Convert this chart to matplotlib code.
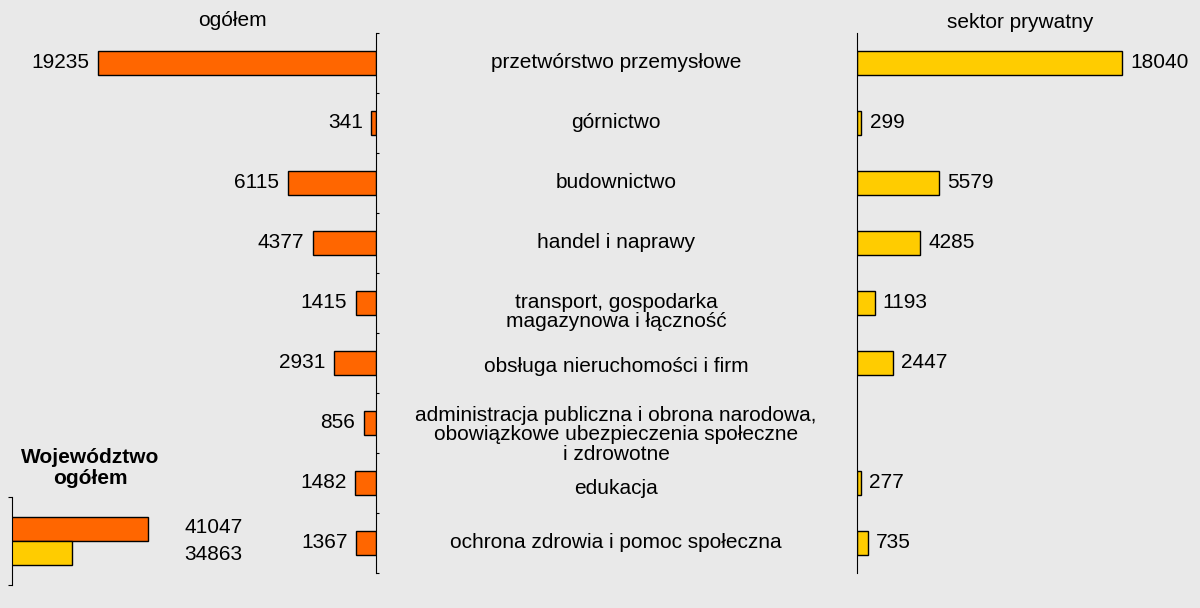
import matplotlib
matplotlib.use("Agg")
import matplotlib.pyplot as plt
import matplotlib.transforms as mtransforms
import numpy as np

plt.rcParams['font.family'] = ['Liberation Sans', 'DejaVu Sans']

# dane
categories = [
	'przetwórstwo przemysłowe',
	'górnictwo',
	'budownictwo',
	'handel i naprawy',
	'transport, gospodarka\nmagazynowa i łączność',
	'obsługa nieruchomości i firm',
	'administracja publiczna i obrona narodowa,\nobowiązkowe ubezpieczenia społeczne\ni zdrowotne',
	'edukacja',
	'ochrona zdrowia i pomoc społeczna',
]
ogolem = [19235, 341, 6115, 4377, 1415, 2931, 856, 1482, 1367]
prywatny = [18040, 299, 5579, 4285, 1193, 2447, None, 277, 735]
woj_labels = ['ogółem', 'sektor prywatny']
woj_values = [41047, 34863]

bg = '#e9e9e9'
orange = '#ff6600'
yellow = '#ffcc00'
fs = 15

fig = plt.figure(figsize=(12, 6.08), dpi=100)
fig.patch.set_facecolor(bg)

bottom = 35 / 608
height = 540 / 608
axL = fig.add_axes([87 / 1200, bottom, 289 / 1200, height])
axR = fig.add_axes([857 / 1200, bottom, 294 / 1200, height])

y = np.arange(len(categories))

# lewa strona - ogółem
axL.barh(y, ogolem, height=0.4, color=orange, edgecolor='black', linewidth=1)
axL.set_xlim(20000, 0)
axL.set_ylim(len(categories) - 0.5, -0.5)
for i, v in enumerate(ogolem):
	axL.annotate(str(v), (v, i), xytext=(-6, 0), textcoords='offset points',
		ha='right', va='center', fontsize=fs)

# prawa strona - sektor prywatny
vals = [v if v is not None else 0 for v in prywatny]
mask = [v is not None for v in prywatny]
axR.barh(y[mask], np.array(vals)[mask], height=0.4, color=yellow, edgecolor='black', linewidth=1)
axR.set_xlim(0, 20000)
axR.set_ylim(len(categories) - 0.5, -0.5)
for i, v in enumerate(prywatny):
	if v is None:
		continue
	axR.annotate(str(v), (v, i), xytext=(6, 0), textcoords='offset points',
		ha='left', va='center', fontsize=fs)

for ax in (axL, axR):
	ax.set_facecolor('none')
	for s in ax.spines.values():
		s.set_visible(False)
	ax.set_xticks([])

axL.spines['right'].set_visible(True)
axL.yaxis.tick_right()
axL.set_yticks(np.arange(len(categories) + 1) - 0.5)
axL.set_yticklabels([])
axL.tick_params(axis='y', length=2, direction='out', color='black')

axR.spines['left'].set_visible(True)
axR.set_yticks([])

# nazwy sekcji w środku
trans = mtransforms.blended_transform_factory(fig.transFigure, axL.transData)
offsets = [0, 0, 0, 0, 0.15, 0.05, 0.2, 0.1, 0]
for i, lab in enumerate(categories):
	axL.text(616 / 1200, i + offsets[i], lab, transform=trans, ha='center', va='center',
		fontsize=fs, linespacing=1.05, clip_on=False)

fig.text(232 / 1200, 1 - 20 / 608, 'ogółem', ha='center', va='center', fontsize=fs)
fig.text(1020 / 1200, 1 - 22 / 608, 'sektor prywatny', ha='center', va='center', fontsize=fs)

# województwo ogółem
fig.text(90 / 1200, 1 - 468 / 608, 'Województwo\nogółem', ha='center', va='center',
	fontsize=fs, fontweight='bold', linespacing=1.1)

axW = fig.add_axes([12 / 1200, 23 / 608, 185 / 1200, 88 / 608])
axW.set_facecolor('none')
wy = [0.273, -0.273]
axW.barh(wy, woj_values, height=0.545, color=[orange, yellow], edgecolor='black',
	linewidth=1, left=0)
axW.set_xlim(30000, 45000)
axW.set_ylim(-1, 1)
for s in axW.spines.values():
	s.set_visible(False)
axW.spines['left'].set_visible(True)
axW.set_xticks([])
axW.set_yticks([-1, 1])
axW.set_yticklabels([])
axW.tick_params(axis='y', length=3, direction='out')
for yy, v in zip([0.3, -0.3], woj_values):
	axW.text(0.93, yy, str(v), transform=mtransforms.blended_transform_factory(axW.transAxes, axW.transData),
		ha='left', va='center', fontsize=fs)

fig.savefig('out.png', dpi=100, facecolor=bg)
